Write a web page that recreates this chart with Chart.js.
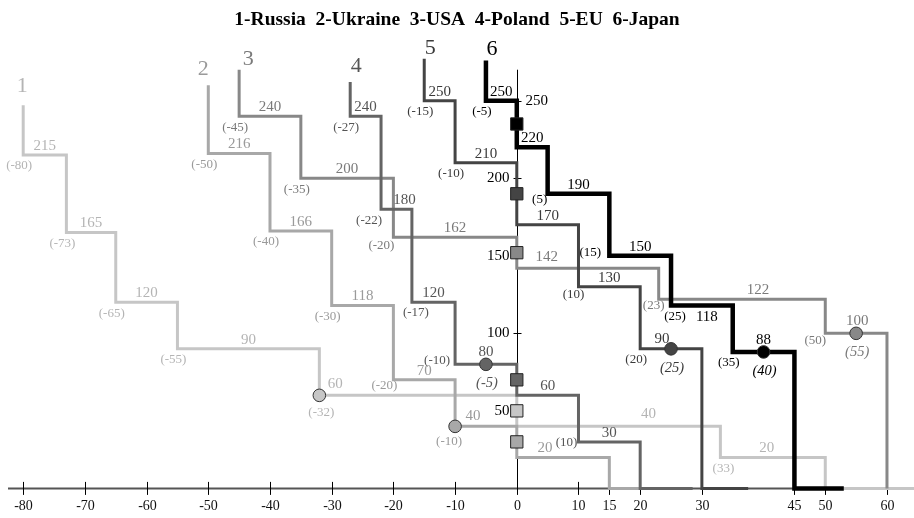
<!DOCTYPE html>
<html>
<head>
<meta charset="utf-8">
<script src="https://cdn.jsdelivr.net/npm/chart.js@4.4.0/dist/chart.umd.min.js"></script>
<style>
  body { margin: 0; background: #fff; }
  canvas { display: block; }
</style>
</head>
<body>
<canvas id="chart" width="914" height="518"></canvas>
<script>
// step lines: xs = columns where the line drops, ys = level of each flat run
const russiaX  = [-80, -73, -65, -55, -32, 0, 33, 50];
const russiaY  = [215, 165, 120, 90, 60, 40, 20];
const ukraineX = [-50, -40, -30, -20, -10, 0, 15];
const ukraineY = [216, 166, 118, 70, 40, 20];
const usaX     = [-45, -35, -20, 0, 23, 50, 60];
const usaY     = [240, 200, 162, 142, 122, 100];
const polandX  = [-27, -22, -17, -10, 0, 10, 20];
const polandY  = [240, 180, 120, 80, 60, 30];
const euX      = [-15, -10, 0, 10, 20, 30];
const euY      = [250, 210, 170, 130, 90];
const japanX   = [-5, 0, 5, 15, 25, 35, 45];
const japanY   = [250, 220, 190, 150, 118, 88];

const lineTop = [247, 260, 270, 262, 277, 276];    // where each line starts
const lineEnd = [64.4, 23, 60, 28.5, 37.5, 53];    // end of run along the x axis
const squareY = [50, 30, 152, 70, 190, 235];       // squares on the y axis
const circleX = [-32, -10, 55, -5, 25, 40];
const circleY = [60, 40, 100, 80, 90, 88];

const seriesNumbers = ['1', '2', '3', '4', '5', '6'];
const titleText = '1-Russia  2-Ukraine  3-USA  4-Poland  5-EU  6-Japan';

const xTicks = [-80, -70, -60, -50, -40, -30, -20, -10, 0, 10, 15, 20, 30, 45, 50, 60];
const yTicks = [50, 100, 150, 200, 250];
const yAxisTop = 270;

// styles
const lineColors = ['#c6c6c6', '#a8a8a8', '#888888', '#646464', '#444444', '#000000'];
const textColors = ['#b4b4b4', '#9a9a9a', '#7a7a7a', '#555555', '#3a3a3a', '#000000'];
const lineWidths = [3, 3, 3, 3, 3, 4.5];
const SERIF = '"Liberation Serif", "Times New Roman", serif';

// little pixel shifts for labels that sit off their default spot
const numberNudge = [[-1, -19], [-5, -16], [9, -10], [6, -16], [6, -11], [6, -11]];
const labelNudge = {
  'v0-4': [16, -2], 'v0-5': [30, -3], 'v0-6': [-6, 0],
  'v1-4': [18, -1], 'v1-5': [-18, 0],
  'v2-3': [-41, -2], 'v2-4': [16, 0], 'v2-5': [1, -3],
  'v3-1': [8, 0], 'v3-3': [0, -3],
  'v4-4': [-9, -1],
  'v5-4': [5, 21], 'v5-5': [0, -3],
  'c0-4': [6, 6], 'c0-6': [7, 0],
  'c1-3': [-5, -5], 'c1-4': [-2, 4],
  'c2-2': [-8, -3], 'c2-4': [-1, -5], 'c2-5': [-6, -4],
  'c3-1': [-8, 0], 'c3-2': [8, -1], 'c3-3': [-14, -15], 'c3-5': [-8, -10],
  'c4-3': [-1, -3],
  'c5-2': [-4, -5], 'c5-3': [-15, -14], 'c5-4': [8, 0]
};

const series = [
  { xs: russiaX, ys: russiaY },
  { xs: ukraineX, ys: ukraineY },
  { xs: usaX, ys: usaY },
  { xs: polandX, ys: polandY },
  { xs: euX, ys: euY },
  { xs: japanX, ys: japanY }
];

function stepPoints(xs, ys, top, end) {
  const pts = [{ x: xs[0], y: top }];
  ys.forEach((v, i) => {
    pts.push({ x: xs[i], y: v }, { x: xs[i + 1], y: v });
  });
  const last = xs[xs.length - 1];
  pts.push({ x: last, y: 0 });
  if (end > last) pts.push({ x: end, y: 0 });
  return pts;
}

const datasets = series.map((s, i) => ({
  data: stepPoints(s.xs, s.ys, lineTop[i], lineEnd[i]),
  borderColor: lineColors[i],
  borderWidth: lineWidths[i],
  borderJoinStyle: 'miter',
  borderCapStyle: 'butt',
  pointRadius: 0,
  tension: 0,
  fill: false,
  order: 6 - i
}));

datasets.push({
  data: squareY.map(y => ({ x: 0, y: y })),
  showLine: false,
  pointStyle: 'rect',
  pointRadius: 8.7,
  pointBackgroundColor: lineColors,
  pointBorderColor: '#222',
  pointBorderWidth: 1,
  order: 0
});
datasets.push({
  data: circleX.map((x, i) => ({ x: x, y: circleY[i] })),
  showLine: false,
  pointStyle: 'circle',
  pointRadius: 6.3,
  pointBackgroundColor: lineColors,
  pointBorderColor: '#333',
  pointBorderWidth: 1,
  order: 0
});

function put(ctx, str, x, y, font, color, align) {
  ctx.font = font;
  ctx.fillStyle = color;
  ctx.textAlign = align || 'center';
  ctx.textBaseline = 'middle';
  ctx.fillText(str, x, y);
}

const decor = {
  id: 'decor',
  beforeDatasetsDraw(chart) {
    const ctx = chart.ctx;
    const xs = chart.scales.x, ys = chart.scales.y;
    const y0 = ys.getPixelForValue(0), x0 = xs.getPixelForValue(0);
    ctx.save();
    // title
    ctx.font = 'bold 19.5px ' + SERIF;
    ctx.fillStyle = '#000';
    ctx.textAlign = 'center';
    ctx.textBaseline = 'alphabetic';
    ctx.fillText(titleText, 457, 25);

    // x axis
    ctx.strokeStyle = '#555';
    ctx.lineWidth = 2;
    ctx.beginPath();
    ctx.moveTo(8, y0);
    ctx.lineTo(914, y0);
    ctx.stroke();
    ctx.strokeStyle = '#000';
    ctx.lineWidth = 1;
    xTicks.forEach(v => {
      const px = Math.round(xs.getPixelForValue(v)) + 0.5;
      ctx.beginPath();
      ctx.moveTo(px, y0 - 6.5);
      ctx.lineTo(px, y0 + 6.5);
      ctx.stroke();
      put(ctx, String(v), px, y0 + 18, '14px ' + SERIF, '#111');
    });

    // y axis
    const ax = Math.round(x0) + 0.5;
    ctx.beginPath();
    ctx.moveTo(ax, y0);
    ctx.lineTo(ax, ys.getPixelForValue(yAxisTop));
    ctx.stroke();
    yTicks.forEach((v, i) => {
      const py = Math.round(ys.getPixelForValue(v)) + 0.5;
      ctx.beginPath();
      ctx.moveTo(ax - 4, py);
      ctx.lineTo(ax + 4, py);
      ctx.stroke();
      // top label goes right of the axis, clear of the Japan line
      if (i === yTicks.length - 1) put(ctx, String(v), ax + 8, py, '15px ' + SERIF, '#000', 'left');
      else put(ctx, String(v), ax - 8, py, '15px ' + SERIF, '#000', 'right');
    });
    ctx.restore();
  },
  afterDatasetsDraw(chart) {
    const ctx = chart.ctx;
    const xs = chart.scales.x, ys = chart.scales.y;
    const px = v => xs.getPixelForValue(v), py = v => ys.getPixelForValue(v);
    ctx.save();
    series.forEach((s, si) => {
      const col = textColors[si];
      // big series number above the line start
      const nn = numberNudge[si];
      put(ctx, seriesNumbers[si], px(s.xs[0]) + nn[0], py(lineTop[si]) + nn[1], '22px ' + SERIF, col);

      // levels above each flat run
      s.ys.forEach((v, i) => {
        let at = (s.xs[i] + s.xs[i + 1]) / 2;
        if (circleY[si] === v && circleX[si] >= s.xs[i] && circleX[si] <= s.xs[i + 1]) at = circleX[si];
        const n = labelNudge['v' + si + '-' + i] || [0, 0];
        put(ctx, String(v), px(at) + n[0], py(v) - 9 + n[1], '15px ' + SERIF, col);
      });

      // column of each drop, under the corner
      s.xs.forEach((x, i) => {
        if (i >= s.ys.length || x === 0) return;
        const n = labelNudge['c' + si + '-' + i] || [0, 0];
        put(ctx, '(' + x + ')', px(x) - 4 + n[0], py(s.ys[i]) + 11 + n[1], '13px ' + SERIF, col);
      });

      // circle on a flat run gets an italic label
      if (!s.xs.includes(circleX[si])) {
        put(ctx, '(' + circleX[si] + ')', px(circleX[si]) + 1, py(circleY[si]) + 19, 'italic 14.5px ' + SERIF, col);
      }
    });
    ctx.restore();
  }
};

new Chart(document.getElementById('chart'), {
  type: 'line',
  data: { datasets: datasets },
  options: {
    responsive: false,
    devicePixelRatio: 1,
    animation: false,
    layout: { padding: 0, autoPadding: false },
    scales: {
      x: { type: 'linear', min: -83.76, max: 64.38, display: false },
      y: { type: 'linear', min: -19.09, max: 314.95, display: false }
    },
    plugins: {
      legend: { display: false },
      title: { display: false },
      tooltip: { enabled: false }
    }
  },
  plugins: [decor]
});
</script>
</body>
</html>
